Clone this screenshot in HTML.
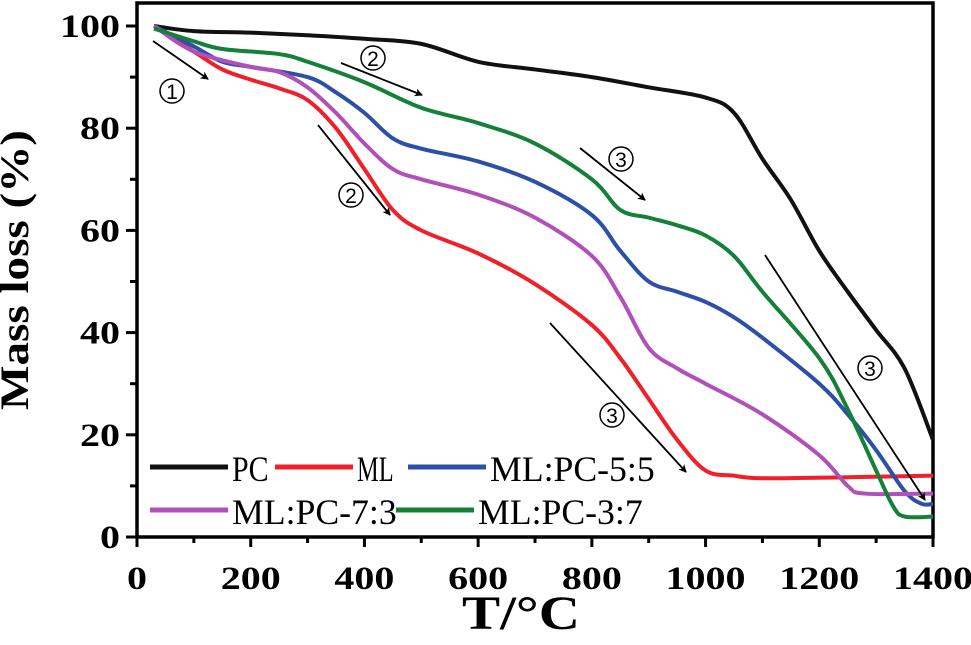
<!DOCTYPE html>
<html><head><meta charset="utf-8"><style>
body{margin:0;background:#fff}
svg{display:block;font-family:"Liberation Serif",serif}
</style></head><body>
<svg id="chart" width="971" height="645" viewBox="0 0 971 645">
<rect x="137" y="3" width="796" height="534" fill="none" stroke="#000" stroke-width="3.5"/>
<g id="ticks"></g>
<g id="series"></g>
<g id="annot"></g>
<text x="28" y="270" transform="rotate(-90 28 270)" text-anchor="middle" font-size="40" font-weight="bold" textLength="280" lengthAdjust="spacingAndGlyphs">Mass loss (%)</text>
<text x="521" y="629" text-anchor="middle" font-size="48" font-weight="bold" textLength="118" lengthAdjust="spacingAndGlyphs">T/°C</text>
<g id="legend"></g>
</svg>
<script>
const NS="http://www.w3.org/2000/svg";
const xTicks=[0,200,400,600,800,1000,1200,1400];
const yTicks=[0,20,40,60,80,100];
const seriesNames=["PC","ML","ML:PC-5:5","ML:PC-7:3","ML:PC-3:7"];
const seriesColors=["#111","#f0202a","#2c4fa8","#b050b8","#148038"];
const tPC=[30,100,200,300,400,500,600,700,800,900,1000,1050,1100,1150,1200,1250,1300,1350,1400];
const mPC=[100,99,98.7,98.2,97.5,96.5,93,91.5,90,88,86,83,74,66,56,48,40.5,33,19];
const tML=[30,100,150,200,250,300,350,400,450,500,600,700,800,850,900,950,1000,1050,1100,1250,1400];
const mML=[100,95,91.5,89.5,87.8,85.5,80,72,64,60,55.5,49.5,41.5,35,27,19,13,12,11.5,11.7,12];
const t55=[30,100,150,200,300,350,400,450,500,600,700,800,850,900,950,1000,1050,1100,1200,1250,1300,1350,1380,1400];
const m55=[100,96,93,92,90,87,83,78,76,73.5,69.5,63,56,50,48,46,43,39,30,24,17,9,6.5,6.5];
const t73=[30,100,200,250,300,350,400,450,500,600,700,800,850,900,950,1000,1100,1200,1250,1280,1400];
const m73=[100,95,92,91,88,83,77,72,70,67,62.5,55,47,37,33,30,24,16,10,8.5,8.5];
const t37=[30,100,150,250,300,400,500,600,700,800,850,900,950,1000,1050,1100,1200,1250,1300,1330,1350,1400];
const m37=[99.5,97,95.5,94.5,93,89,84,81,77,70,64,62.5,61,59,55,48,35,25,13,6,4,4];
const xs=[tPC,tML,t55,t73,t37], ys=[mPC,mML,m55,m73,m37];
const X=t=>137+t*(796/1400), Y=m=>537-m*5.11;
function el(tag,attrs,parent){const e=document.createElementNS(NS,tag);for(const k in attrs)e.setAttribute(k,attrs[k]);parent.appendChild(e);return e;}
const tk=document.getElementById('ticks');
for(let t=0;t<=1400;t+=100){const maj=t%200===0;const l=el('line',{x1:X(t),x2:X(t),y1:537,y2:maj?547:543,stroke:'#000','stroke-width':3},tk);
}
xTicks.forEach(t=>{const s=String(t);const tx=el('text',{x:X(t),y:589,'text-anchor':'middle','font-size':33,'font-weight':'bold',textLength:s.length*20,lengthAdjust:'spacingAndGlyphs'},tk);tx.textContent=s;
});
for(let m=0;m<=100;m+=10){const maj=m%20===0;const l=el('line',{x1:maj?126:130,x2:137,y1:Y(m),y2:Y(m),stroke:'#000','stroke-width':3},tk);
}
yTicks.forEach(m=>{const s=String(m);const tx=el('text',{x:120,y:Y(m)+11,'text-anchor':'end','font-size':33,'font-weight':'bold',textLength:s.length*20,lengthAdjust:'spacingAndGlyphs'},tk);tx.textContent=s;
});
function smooth(p){let d=`M${p[0][0]},${p[0][1]}`;for(let i=0;i<p.length-1;i++){const p0=p[i-1]||p[i],p1=p[i],p2=p[i+1],p3=p[i+2]||p2;
d+=` C${p1[0]+(p2[0]-p0[0])/6},${p1[1]+(p2[1]-p0[1])/6} ${p2[0]-(p3[0]-p1[0])/6},${p2[1]-(p3[1]-p1[1])/6} ${p2[0]},${p2[1]}`;}return d;}
const sg=document.getElementById('series');
xs.forEach((tt,i)=>{const pts=tt.map((t,j)=>[X(t),Y(ys[i][j])]);
const p=el('path',{d:smooth(pts),fill:'none',stroke:seriesColors[i],'stroke-width':4,'stroke-linejoin':'round'},sg);
});
const ag=document.getElementById('annot');
const defs=el('defs',{},ag);const mk=el('marker',{id:'ah',markerWidth:8,markerHeight:8,refX:7,refY:4,orient:'auto',markerUnits:'userSpaceOnUse'},defs);
el('path',{d:'M0,0 L8,4 L0,8 L2,4 Z',fill:'#000'},mk);
[[153,41,208,79],[341,63,422,95],[318,125,390,215],[580,148,645,200],[550,323,686,472],[765,255,925,500]].forEach(a=>{
const l=el('line',{x1:a[0],y1:a[1],x2:a[2],y2:a[3],stroke:'#000','stroke-width':1.8,'marker-end':'url(#ah)'},ag);
});
[[172,91,'1'],[373,58,'2'],[351,195,'2'],[621,159,'3'],[612,415,'3'],[870,368,'3']].forEach(c=>{
const g=el('g',{},ag);
el('circle',{cx:c[0],cy:c[1],r:12,fill:'#fff',stroke:'#000','stroke-width':1.5},g);
const t=el('text',{x:c[0],y:c[1]+8,'text-anchor':'middle','font-size':21,'font-family':'Liberation Sans, sans-serif'},g);t.textContent=c[2];});
const lg=document.getElementById('legend');
[[150,467,232,0],[275,467,357,1],[408,467,490,2],[150,510,232,3],[396,510,478,4]].forEach(r=>{
const g=el('g',{},lg);
el('line',{x1:r[0],x2:r[0]+78,y1:r[1],y2:r[1],stroke:seriesColors[r[3]],'stroke-width':5},g);
const n=seriesNames[r[3]];const t=el('text',{x:r[2],y:r[1]+14,'font-size':36,textLength:n.length*18.3,lengthAdjust:'spacingAndGlyphs'},g);t.textContent=n;});
</script>
</body></html>
